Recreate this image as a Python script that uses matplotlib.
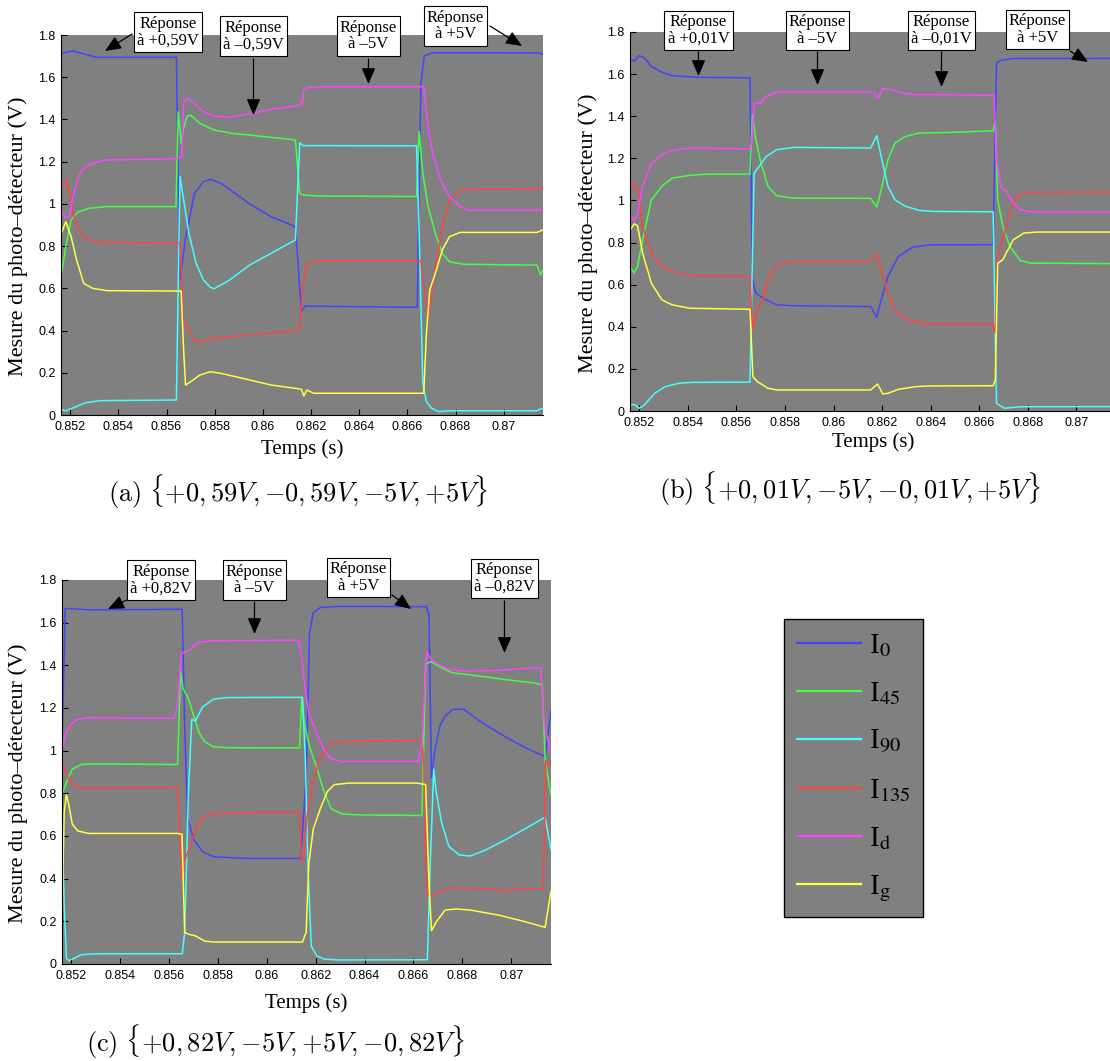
import matplotlib
matplotlib.use("Agg")
import matplotlib.pyplot as plt
from matplotlib.lines import Line2D
from matplotlib.ticker import FixedLocator

plt.rcParams['mathtext.fontset'] = 'stix'

# ---------------- data : panel (a) {+0,59V, -0,59V, -5V, +5V} ----------------
a_I0_t = [0.85163, 0.85210, 0.85310, 0.85641, 0.85656, 0.85678, 0.85716, 0.85753, 0.85782, 0.85827, 0.85945, 0.86034, 0.86135, 0.86160, 0.86175, 0.86641, 0.86656, 0.86670, 0.86700, 0.87140, 0.87163]
a_I0_v = [1.713, 1.725, 1.694, 1.694, 0.640, 0.830, 1.050, 1.105, 1.116, 1.097, 1.000, 0.940, 0.892, 0.490, 0.516, 0.510, 1.570, 1.700, 1.716, 1.715, 1.708]
a_I45_t = [0.85163, 0.85182, 0.85204, 0.85234, 0.85279, 0.85353, 0.85639, 0.85649, 0.85661, 0.85671, 0.85686, 0.85701, 0.85738, 0.85797, 0.85871, 0.85945, 0.86034, 0.86135, 0.86153, 0.86167, 0.86241, 0.86638, 0.86649, 0.86664, 0.86686, 0.86716, 0.86745, 0.86775, 0.86834, 0.87138, 0.87153, 0.87163]
a_I45_v = [0.663, 0.797, 0.924, 0.963, 0.979, 0.987, 0.987, 1.437, 1.287, 1.360, 1.416, 1.420, 1.382, 1.350, 1.334, 1.326, 1.315, 1.303, 1.050, 1.042, 1.037, 1.035, 1.342, 1.145, 0.987, 0.860, 0.766, 0.726, 0.714, 0.710, 0.663, 0.687]
a_I90_t = [0.85163, 0.85182, 0.85204, 0.85264, 0.85323, 0.85641, 0.85656, 0.85671, 0.85693, 0.85723, 0.85753, 0.85782, 0.85797, 0.85856, 0.85945, 0.86034, 0.86135, 0.86153, 0.86167, 0.86638, 0.86649, 0.86664, 0.86679, 0.86700, 0.86730, 0.86775, 0.87138, 0.87153, 0.87163]
a_I90_v = [0.027, 0.020, 0.030, 0.058, 0.068, 0.071, 1.130, 1.020, 0.860, 0.718, 0.640, 0.605, 0.598, 0.635, 0.710, 0.766, 0.829, 1.290, 1.276, 1.275, 0.860, 0.150, 0.063, 0.032, 0.016, 0.020, 0.020, 0.030, 0.027]
a_I135_t = [0.85163, 0.85182, 0.85197, 0.85212, 0.85234, 0.85264, 0.85308, 0.85353, 0.85656, 0.85671, 0.85690, 0.85716, 0.85738, 0.85797, 0.85945, 0.86093, 0.86153, 0.86164, 0.86182, 0.86212, 0.86316, 0.86656, 0.86686, 0.86716, 0.86745, 0.86775, 0.86819, 0.86864, 0.87140, 0.87163]
a_I135_v = [1.074, 1.113, 1.050, 0.955, 0.876, 0.837, 0.821, 0.818, 0.813, 0.434, 0.418, 0.352, 0.347, 0.363, 0.379, 0.395, 0.403, 0.592, 0.718, 0.726, 0.731, 0.731, 0.450, 0.700, 0.890, 1.018, 1.063, 1.069, 1.072, 1.081]
a_Id_t = [0.85163, 0.85182, 0.85197, 0.85212, 0.85234, 0.85264, 0.85308, 0.85353, 0.85641, 0.85664, 0.85671, 0.85686, 0.85708, 0.85753, 0.85797, 0.85856, 0.85945, 0.86034, 0.86138, 0.86164, 0.86170, 0.86190, 0.86227, 0.86668, 0.86686, 0.86708, 0.86738, 0.86775, 0.86819, 0.86849, 0.87163]
a_Id_v = [0.971, 0.932, 0.940, 1.034, 1.129, 1.176, 1.198, 1.208, 1.214, 1.224, 1.476, 1.500, 1.484, 1.437, 1.416, 1.410, 1.426, 1.448, 1.464, 1.476, 1.540, 1.552, 1.555, 1.555, 1.366, 1.224, 1.113, 1.034, 0.987, 0.971, 0.971]
a_Ig_t = [0.85163, 0.85182, 0.85204, 0.85227, 0.85256, 0.85293, 0.85353, 0.85661, 0.85671, 0.85679, 0.85701, 0.85738, 0.85782, 0.85827, 0.85945, 0.86034, 0.86138, 0.86160, 0.86170, 0.86182, 0.86212, 0.86668, 0.86679, 0.86693, 0.86716, 0.86745, 0.86775, 0.86819, 0.87138, 0.87163]
a_Ig_v = [0.860, 0.916, 0.845, 0.734, 0.624, 0.600, 0.589, 0.587, 0.308, 0.142, 0.158, 0.189, 0.205, 0.197, 0.166, 0.142, 0.126, 0.122, 0.090, 0.118, 0.103, 0.103, 0.387, 0.592, 0.671, 0.782, 0.845, 0.865, 0.865, 0.877]

# ---------------- data : panel (b) {+0,01V, -5V, -0,01V, +5V} ----------------
b_I0_t = [0.85157, 0.85179, 0.85200, 0.85221, 0.85250, 0.85293, 0.85336, 0.85436, 0.85656, 0.85666, 0.85680, 0.85709, 0.85766, 0.85838, 0.86153, 0.86178, 0.86196, 0.86224, 0.86267, 0.86325, 0.86396, 0.86657, 0.86671, 0.86690, 0.86740, 0.87163]
b_I0_v = [1.677, 1.661, 1.688, 1.677, 1.637, 1.609, 1.593, 1.585, 1.582, 0.623, 0.560, 0.536, 0.504, 0.500, 0.496, 0.445, 0.528, 0.639, 0.734, 0.778, 0.789, 0.790, 1.653, 1.666, 1.674, 1.675]
b_I45_t = [0.85157, 0.85179, 0.85193, 0.85214, 0.85250, 0.85293, 0.85336, 0.85408, 0.85479, 0.85656, 0.85666, 0.85680, 0.85701, 0.85730, 0.85766, 0.85838, 0.86153, 0.86178, 0.86196, 0.86224, 0.86253, 0.86296, 0.86353, 0.86482, 0.86657, 0.86666, 0.86676, 0.86697, 0.86726, 0.86769, 0.86812, 0.87163]
b_I45_v = [0.697, 0.655, 0.686, 0.813, 1.003, 1.067, 1.106, 1.119, 1.125, 1.125, 1.407, 1.289, 1.178, 1.067, 1.022, 1.011, 1.010, 0.968, 1.051, 1.193, 1.273, 1.304, 1.320, 1.323, 1.331, 1.376, 1.003, 0.876, 0.781, 0.715, 0.702, 0.700]
b_I90_t = [0.85157, 0.85179, 0.85200, 0.85221, 0.85264, 0.85307, 0.85365, 0.85422, 0.85656, 0.85673, 0.85694, 0.85723, 0.85766, 0.85838, 0.86153, 0.86178, 0.86196, 0.86224, 0.86253, 0.86296, 0.86353, 0.86410, 0.86657, 0.86671, 0.86704, 0.86769, 0.87163]
b_I90_v = [0.024, 0.032, 0.013, 0.029, 0.084, 0.116, 0.132, 0.136, 0.137, 1.130, 1.162, 1.209, 1.241, 1.252, 1.249, 1.308, 1.209, 1.067, 1.003, 0.972, 0.953, 0.948, 0.946, 0.036, 0.013, 0.020, 0.021]
b_I135_t = [0.85157, 0.85179, 0.85193, 0.85214, 0.85250, 0.85293, 0.85336, 0.85408, 0.85656, 0.85666, 0.85680, 0.85709, 0.85730, 0.85766, 0.85823, 0.86153, 0.86178, 0.86196, 0.86224, 0.86253, 0.86296, 0.86353, 0.86410, 0.86657, 0.86666, 0.86676, 0.86697, 0.86726, 0.86754, 0.86797, 0.87163]
b_I135_v = [1.043, 1.086, 1.059, 0.876, 0.750, 0.686, 0.663, 0.644, 0.639, 0.385, 0.464, 0.528, 0.623, 0.694, 0.710, 0.710, 0.750, 0.670, 0.560, 0.480, 0.436, 0.420, 0.414, 0.413, 0.369, 0.734, 0.813, 0.940, 1.019, 1.038, 1.040]
b_Id_t = [0.85157, 0.85179, 0.85193, 0.85214, 0.85250, 0.85293, 0.85336, 0.85408, 0.85656, 0.85663, 0.85673, 0.85701, 0.85723, 0.85766, 0.86167, 0.86184, 0.86203, 0.86239, 0.86282, 0.86339, 0.86661, 0.86671, 0.86690, 0.86711, 0.86740, 0.86769, 0.86812, 0.87163]
b_Id_v = [0.948, 0.900, 0.940, 1.067, 1.178, 1.217, 1.238, 1.249, 1.245, 1.273, 1.460, 1.463, 1.495, 1.515, 1.515, 1.484, 1.534, 1.526, 1.510, 1.503, 1.500, 1.193, 1.059, 1.043, 0.987, 0.956, 0.946, 0.945]
b_Ig_t = [0.85157, 0.85179, 0.85193, 0.85214, 0.85250, 0.85293, 0.85336, 0.85408, 0.85656, 0.85668, 0.85687, 0.85730, 0.85766, 0.86153, 0.86181, 0.86203, 0.86224, 0.86267, 0.86339, 0.86396, 0.86657, 0.86666, 0.86676, 0.86697, 0.86711, 0.86740, 0.86783, 0.86840, 0.87163]
b_Ig_v = [0.850, 0.889, 0.880, 0.750, 0.607, 0.528, 0.504, 0.488, 0.483, 0.163, 0.139, 0.108, 0.100, 0.100, 0.128, 0.081, 0.084, 0.103, 0.116, 0.119, 0.120, 0.147, 0.702, 0.718, 0.750, 0.813, 0.845, 0.850, 0.850]

# ---------------- data : panel (c) {+0,82V, -5V, +5V, -0,82V} ----------------
c_I0_t = [0.85161, 0.85168, 0.85175, 0.85197, 0.85270, 0.85654, 0.85664, 0.85676, 0.85701, 0.85737, 0.85781, 0.85854, 0.85927, 0.86139, 0.86161, 0.86175, 0.86190, 0.86219, 0.86292, 0.86654, 0.86664, 0.86674, 0.86686, 0.86708, 0.86730, 0.86759, 0.86803, 0.86861, 0.86949, 0.87036, 0.87095, 0.87139, 0.87163]
c_I0_v = [0.970, 1.300, 1.666, 1.666, 1.660, 1.663, 1.115, 0.680, 0.583, 0.527, 0.503, 0.498, 0.495, 0.495, 0.873, 1.550, 1.647, 1.671, 1.676, 1.675, 1.631, 0.873, 0.986, 1.115, 1.163, 1.192, 1.196, 1.147, 1.083, 1.027, 0.994, 0.973, 1.190]
c_I45_t = [0.85161, 0.85182, 0.85204, 0.85241, 0.85285, 0.85635, 0.85647, 0.85657, 0.85679, 0.85701, 0.85723, 0.85745, 0.85781, 0.85839, 0.86134, 0.86143, 0.86153, 0.86175, 0.86204, 0.86234, 0.86263, 0.86307, 0.86365, 0.86635, 0.86650, 0.86672, 0.86701, 0.86759, 0.86876, 0.86978, 0.87095, 0.87127, 0.87139, 0.87163]
c_I45_v = [0.793, 0.857, 0.914, 0.935, 0.938, 0.935, 1.373, 1.292, 1.244, 1.163, 1.083, 1.043, 1.018, 1.014, 1.013, 1.244, 1.131, 1.018, 0.922, 0.809, 0.728, 0.704, 0.699, 0.696, 1.405, 1.418, 1.397, 1.365, 1.349, 1.333, 1.317, 1.309, 0.954, 0.793]
c_I90_t = [0.85161, 0.85171, 0.85180, 0.85190, 0.85212, 0.85241, 0.85314, 0.85654, 0.85664, 0.85679, 0.85693, 0.85708, 0.85737, 0.85781, 0.85839, 0.86146, 0.86158, 0.86168, 0.86182, 0.86204, 0.86234, 0.86292, 0.86657, 0.86669, 0.86683, 0.86693, 0.86715, 0.86745, 0.86788, 0.86832, 0.86891, 0.86978, 0.87066, 0.87139, 0.87163]
c_I90_v = [0.696, 0.277, 0.027, 0.016, 0.027, 0.044, 0.048, 0.048, 0.148, 0.793, 1.147, 1.140, 1.204, 1.241, 1.249, 1.250, 0.954, 0.470, 0.084, 0.039, 0.023, 0.019, 0.020, 0.470, 0.914, 0.809, 0.664, 0.551, 0.511, 0.506, 0.532, 0.583, 0.640, 0.688, 0.535]
c_I135_t = [0.85161, 0.85168, 0.85190, 0.85219, 0.85255, 0.85635, 0.85642, 0.85650, 0.85664, 0.85686, 0.85708, 0.85737, 0.85781, 0.85854, 0.86134, 0.86143, 0.86153, 0.86163, 0.86190, 0.86219, 0.86263, 0.86321, 0.86635, 0.86642, 0.86654, 0.86672, 0.86701, 0.86745, 0.86832, 0.86920, 0.86978, 0.87131, 0.87142, 0.87163]
c_I135_v = [0.935, 0.935, 0.865, 0.833, 0.825, 0.828, 0.632, 0.398, 0.487, 0.551, 0.632, 0.688, 0.704, 0.709, 0.712, 0.479, 0.503, 0.680, 0.857, 0.970, 1.035, 1.043, 1.047, 0.950, 0.334, 0.317, 0.334, 0.358, 0.355, 0.350, 0.345, 0.355, 0.954, 0.930]
c_Id_t = [0.85161, 0.85175, 0.85197, 0.85226, 0.85270, 0.85620, 0.85635, 0.85650, 0.85664, 0.85686, 0.85708, 0.85737, 0.85781, 0.86131, 0.86143, 0.86158, 0.86175, 0.86204, 0.86234, 0.86263, 0.86307, 0.86620, 0.86635, 0.86654, 0.86672, 0.86701, 0.86745, 0.86803, 0.86949, 0.87051, 0.87121, 0.87136, 0.87163]
c_Id_v = [0.994, 1.075, 1.123, 1.147, 1.154, 1.152, 1.212, 1.454, 1.462, 1.473, 1.499, 1.510, 1.515, 1.518, 1.437, 1.276, 1.163, 1.083, 1.002, 0.962, 0.949, 0.950, 1.035, 1.462, 1.429, 1.405, 1.381, 1.373, 1.376, 1.386, 1.389, 1.115, 0.994]
c_Ig_t = [0.85161, 0.85171, 0.85180, 0.85190, 0.85204, 0.85226, 0.85270, 0.85635, 0.85653, 0.85664, 0.85679, 0.85708, 0.85745, 0.85781, 0.86146, 0.86161, 0.86172, 0.86190, 0.86219, 0.86248, 0.86277, 0.86336, 0.86613, 0.86650, 0.86664, 0.86674, 0.86693, 0.86730, 0.86774, 0.86832, 0.86949, 0.87051, 0.87139, 0.87163]
c_Ig_v = [0.172, 0.712, 0.793, 0.745, 0.656, 0.624, 0.612, 0.612, 0.608, 0.148, 0.140, 0.132, 0.108, 0.103, 0.103, 0.148, 0.470, 0.632, 0.728, 0.809, 0.841, 0.848, 0.848, 0.841, 0.374, 0.156, 0.197, 0.253, 0.258, 0.253, 0.229, 0.200, 0.172, 0.342]

series_names = [r'I$_{\mathrm{0}}$', r'I$_{\mathrm{45}}$', r'I$_{\mathrm{90}}$',
                r'I$_{\mathrm{135}}$', r'I$_{\mathrm{d}}$', r'I$_{\mathrm{g}}$']
series_colors = ['#4444ff', '#44ff44', '#44ffff', '#ff4444', '#ff44ff', '#ffff44']

x_ticks = [0.852, 0.854, 0.856, 0.858, 0.86, 0.862, 0.864, 0.866, 0.868, 0.87]
x_tick_labels = ['0.852', '0.854', '0.856', '0.858', '0.86', '0.862', '0.864', '0.866', '0.868', '0.87']
y_ticks = [0, 0.2, 0.4, 0.6, 0.8, 1.0, 1.2, 1.4, 1.6, 1.8]
y_tick_labels = ['0', '0.2', '0.4', '0.6', '0.8', '1', '1.2', '1.4', '1.6', '1.8']

captions = [r'$\mathrm{(a)}\ \{+0,59V,{-}0,59V,{-}5V,{+}5V\}$',
            r'$\mathrm{(b)}\ \{+0,01V,{-}5V,{-}0,01V,{+}5V\}$',
            r'$\mathrm{(c)}\ \{+0,82V,{-}5V,{+}5V,{-}0,82V\}$']

notes_a = ['Réponse\nà +0,59V', 'Réponse\nà \u20130,59V', 'Réponse\nà \u20135V', 'Réponse\nà +5V']
notes_b = ['Réponse\nà +0,01V', 'Réponse\nà \u20135V', 'Réponse\nà \u20130,01V', 'Réponse\nà +5V']
notes_c = ['Réponse\nà +0,82V', 'Réponse\nà \u20135V', 'Réponse\nà +5V', 'Réponse\nà \u20130,82V']

# ---------------- figure ----------------
W, H = 1110, 1061
fig = plt.figure(figsize=(W / 100, H / 100), dpi=100)
fig.patch.set_facecolor('white')

def px_rect(x0, y0, x1, y1):
    return [x0 / W, 1 - y1 / H, (x1 - x0) / W, (y1 - y0) / H]

SERIF = ['Liberation Serif', 'DejaVu Serif']
SANS = ['Liberation Sans', 'DejaVu Sans']

def make_panel(rect, data, xlabel_y, ylabel_x):
    ax = fig.add_axes(rect)
    ax.set_facecolor('#808080')
    lines = []
    for (t, v), col in zip(data, series_colors):
        ln, = ax.plot(t, v, color=col, lw=1.1)
        lines.append(ln)
    ax.set_xlim(0.85162, 0.87163)
    ax.set_ylim(0, 1.8)
    ax.xaxis.set_major_locator(FixedLocator(x_ticks))
    ax.set_xticklabels(x_tick_labels)
    ax.yaxis.set_major_locator(FixedLocator(y_ticks))
    ax.set_yticklabels(y_tick_labels)
    ax.tick_params(direction='in', length=4, width=0.8, labelsize=9)
    ax.tick_params(axis='x', pad=4)
    ax.tick_params(axis='y', pad=4)
    for lab in ax.get_xticklabels() + ax.get_yticklabels():
        lab.set_fontfamily(SANS)
    ax.spines['top'].set_visible(False)
    ax.spines['right'].set_visible(False)
    ax.spines['left'].set_linewidth(0.8)
    ax.spines['bottom'].set_linewidth(0.8)
    ax.set_xlabel('Temps (s)', fontfamily=SERIF, fontsize=15)
    ax.set_ylabel('Mesure du photo\u2013détecteur (V)', fontfamily=SERIF, fontsize=16)
    ax.xaxis.set_label_coords(0.5, xlabel_y)
    ax.yaxis.set_label_coords(ylabel_x, 0.47)
    return ax, lines

data_a = [(a_I0_t, a_I0_v), (a_I45_t, a_I45_v), (a_I90_t, a_I90_v),
          (a_I135_t, a_I135_v), (a_Id_t, a_Id_v), (a_Ig_t, a_Ig_v)]
data_b = [(b_I0_t, b_I0_v), (b_I45_t, b_I45_v), (b_I90_t, b_I90_v),
          (b_I135_t, b_I135_v), (b_Id_t, b_Id_v), (b_Ig_t, b_Ig_v)]
data_c = [(c_I0_t, c_I0_v), (c_I45_t, c_I45_v), (c_I90_t, c_I90_v),
          (c_I135_t, c_I135_v), (c_Id_t, c_Id_v), (c_Ig_t, c_Ig_v)]

ax_a, lines_a = make_panel(px_rect(61, 35, 543, 415), data_a, -0.064, -0.068)
ax_b, lines_b = make_panel(px_rect(630, 32, 1116, 411), data_b, -0.056, -0.066)
ax_c, lines_c = make_panel(px_rect(62, 580, 551, 964), data_c, -0.076, -0.070)

# ---------------- annotations (figure pixel positions, top-left origin) ----------------
def note(text, cx, cy, start, head):
    fig.text(cx / W, 1 - cy / H, text, ha='center', va='center', fontfamily=SERIF,
             fontsize=12, linespacing=1.05, zorder=10,
             bbox=dict(boxstyle='square,pad=0.2', facecolor='white', edgecolor='black', lw=0.8))
    fig.add_artist(matplotlib.patches.FancyArrowPatch(
        (start[0] / W, 1 - start[1] / H), (head[0] / W, 1 - head[1] / H),
        transform=fig.transFigure, arrowstyle='-|>,head_length=0.7,head_width=0.3',
        mutation_scale=14, color='black', lw=0.9, shrinkA=0, shrinkB=0, zorder=9))

note(notes_a[0], 168, 32, (132, 34), (105, 51))
note(notes_a[1], 253.5, 36, (253.5, 59), (253.5, 115))
note(notes_a[2], 368.5, 36, (368.5, 59), (368.5, 84))
note(notes_a[3], 455.5, 26, (490, 26), (522, 46))

note(notes_b[0], 698.5, 30.5, (698.5, 52), (698.5, 76))
note(notes_b[1], 817.5, 30.5, (817.5, 52), (817.5, 85))
note(notes_b[2], 941.5, 30.5, (941.5, 52), (941.5, 87))
note(notes_b[3], 1037.5, 29.5, (1070, 51), (1088, 62))

note(notes_c[0], 161, 580, (127, 600), (108, 609))
note(notes_c[1], 254.5, 580, (254.5, 602), (254.5, 634))
note(notes_c[2], 358.5, 577.5, (392, 595), (411, 609))
note(notes_c[3], 504.5, 578.5, (504.5, 601), (504.5, 653))

# ---------------- captions ----------------
for txt, cx, cy in zip(captions, [298, 850, 275], [492, 489, 1042]):
    fig.text(cx / W, 1 - cy / H, txt, ha='center', va='center', fontsize=19,
             math_fontfamily='cm')

# ---------------- legend ----------------
handles = [Line2D([], [], color=c, lw=1.6) for c in series_colors]
leg = fig.legend(handles, series_names, loc='upper left',
                 bbox_to_anchor=(784 / W, 1 - 619 / H), bbox_transform=fig.transFigure,
                 frameon=True, fancybox=False, facecolor='#808080', edgecolor='black',
                 framealpha=1, prop={'family': SERIF, 'size': 21},
                 handlelength=2.2, handletextpad=0.25, labelspacing=0.72, borderpad=0.45,
                 borderaxespad=0)
leg.get_frame().set_linewidth(1.0)

fig.savefig('out.png', dpi=100)
